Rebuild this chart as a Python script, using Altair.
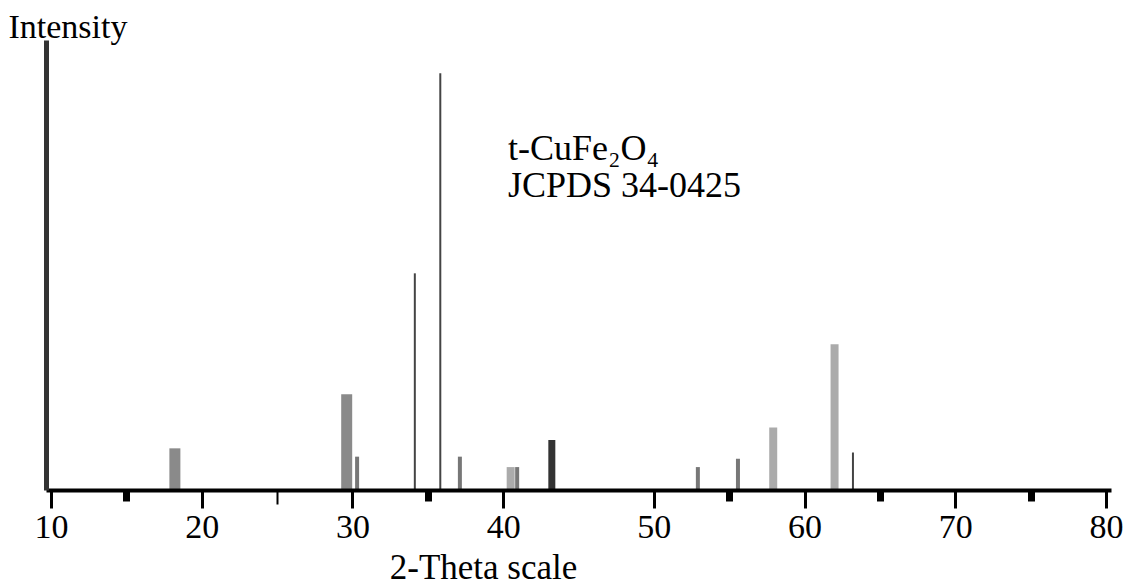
import altair as alt
import pandas as pd

# Diffraction lines (2-theta, relative intensity, drawing group)
two_theta = [18.22, 29.62, 30.31, 34.14, 35.83, 37.13, 40.50, 40.93, 43.23,
             52.92, 55.58, 57.92, 61.99, 63.21]
intensity = [10, 23, 8, 52, 100, 8, 5.5, 5.5, 12,
             5.5, 7.5, 15, 35, 9]
line_group = ["wide", "wide", "medium", "thin", "thin", "medium", "light", "medium", "black",
              "medium", "medium", "light", "light", "thin"]

x_tick_marks = [10, 15, 20, 25, 30, 35, 40, 50, 55, 60, 65, 70, 75, 80]

annotation_lines = ["t-CuFe\u2082O\u2084", "JCPDS 34-0425"]

df = pd.DataFrame({"two_theta": two_theta, "intensity": intensity, "group": line_group})

styles = {
    "wide": ("#8a8a8a", 11),
    "light": ("#ababab", 8),
    "medium": ("#777777", 4),
    "thin": ("#444444", 2),
    "black": ("#333333", 7),
}

SERIF = "Liberation Serif"

x_axis = alt.Axis(
    values=x_tick_marks,
    labelExpr="datum.value % 10 === 0 ? datum.label : ''",
    grid=False,
    domainWidth=4,
    domainColor="black",
    tickColor="black",
    tickWidth={"condition": [{"test": "datum.value % 10 === 0", "value": 3},
                             {"test": "datum.value === 25", "value": 2}], "value": 7},
    tickSize={"condition": [{"test": "datum.value % 10 === 0", "value": 18},
                            {"test": "datum.value === 25", "value": 14}], "value": 11},
    labelFont=SERIF,
    labelFontSize=34,
    labelColor="black",
    labelPadding=2,
    labelFlush=False,
    labelOverlap=False,
    labelBound=False,
    title="2-Theta scale",
    titleFont=SERIF,
    titleFontSize=35,
    titleFontWeight="normal",
    titleColor="black",
    titleX=437,
    titleY=88,
    titleAlign="center",
    titleBaseline="alphabetic",
    zindex=1,
)

y_axis = alt.Axis(
    title="Intensity",
    ticks=False,
    labels=False,
    grid=False,
    domainWidth=5,
    domainColor="#333333",
    titleAngle=0,
    titleX=-38,
    titleY=-3,
    titleAlign="left",
    titleBaseline="alphabetic",
    titleFont=SERIF,
    titleFontSize=34,
    titleFontWeight="normal",
    titleColor="black",
    zindex=1,
)

base = alt.Chart(df).encode(
    x=alt.X("two_theta:Q", scale=alt.Scale(domain=[10, 80], nice=False, zero=False), axis=x_axis),
    y=alt.Y("intensity:Q", scale=alt.Scale(domain=[0, 108], nice=False), axis=y_axis),
)

layers = []
for g, (c, w) in styles.items():
    layers.append(
        base.transform_filter(alt.datum.group == g).mark_bar(size=w, color=c, opacity=1)
    )

ann_df = pd.DataFrame({"k": [0]})
ann1 = alt.Chart(ann_df).mark_text(
    text=annotation_lines[0], align="left", baseline="alphabetic",
    font=SERIF, fontSize=36, color="black"
).encode(x=alt.value(462), y=alt.value(120))
ann2 = alt.Chart(ann_df).mark_text(
    text=annotation_lines[1], align="left", baseline="alphabetic",
    font=SERIF, fontSize=36, color="black"
).encode(x=alt.value(462), y=alt.value(157))

chart = alt.layer(*layers, ann1, ann2).properties(
    width=1065,
    height=450,
    autosize=alt.AutoSizeParams(type="none"),
    padding={"left": 46, "top": 40, "right": 25, "bottom": 97},
    background="white",
).configure_view(stroke=None)

chart.save("out.html", embed_options={"renderer": "svg", "actions": False})
